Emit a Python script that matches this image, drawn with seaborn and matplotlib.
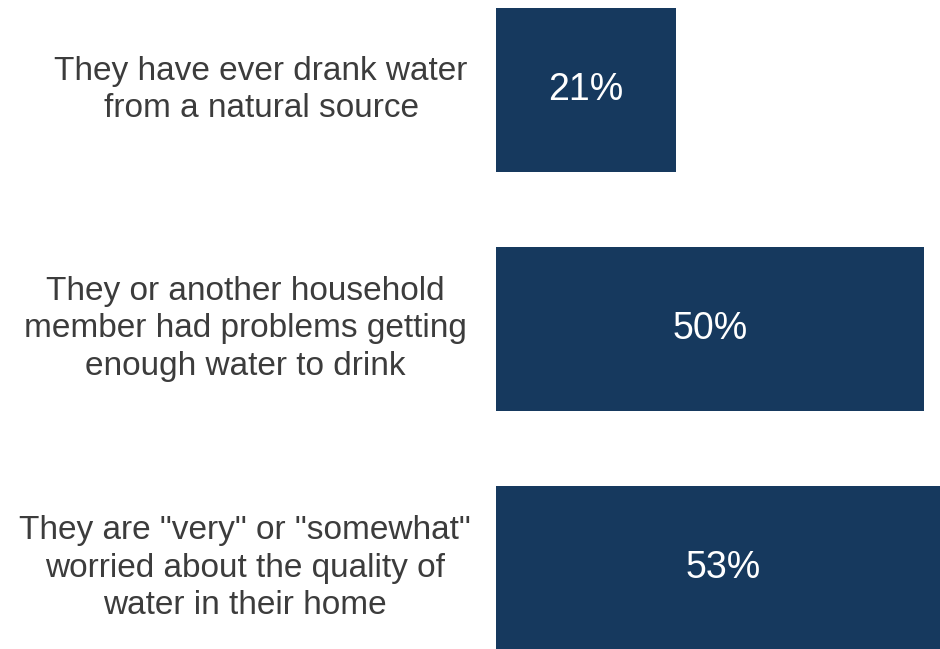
import numpy as np
import pandas as pd
import matplotlib
matplotlib.use("Agg")
import matplotlib.pyplot as plt
import seaborn as sns

# data
labels = [
    "They have ever drank water\nfrom a natural source",
    "They or another household\nmember had problems getting\nenough water to drink",
    "They are \"very\" or \"somewhat\"\nworried about the quality of\nwater in their home",
]
values = [21, 50, 53]

BAR_COLOR = "#16395e"
TEXT_COLOR = "#3c3c3c"
LABEL_X_PX = [261, 245, 245]  # horizontal centre of each label, in pixels

sns.set_style("white")
plt.rcParams["font.family"] = ["Liberation Sans", "DejaVu Sans"]

df = pd.DataFrame({"label": labels, "value": values})

fig = plt.figure(figsize=(9.4, 6.49), dpi=100)
ax = fig.add_axes([496 / 940, 0, 444 / 940, 1])

sns.barplot(data=df, x="value", y="label", orient="h", color=BAR_COLOR,
            saturation=1, width=0.69, linewidth=0, ax=ax)

ax.set_xlim(0, 444 / 8.56)
ax.set_ylim(2 + 81 / 239, -90 / 239)

for i, (lab, v) in enumerate(zip(labels, values)):
    ax.text(v / 2, i, f"{v}%", color="white", fontsize=27,
            ha="center", va="center")
    ax.text((LABEL_X_PX[i] - 496) / 444, i, lab,
            transform=ax.get_yaxis_transform(),
            color=TEXT_COLOR, fontsize=24, ha="center", va="center",
            multialignment="center", linespacing=1.27)

ax.set_xlabel("")
ax.set_ylabel("")
ax.set_xticks([])
ax.set_yticks([])
sns.despine(ax=ax, left=True, bottom=True)

fig.savefig("out.png", dpi=100)
